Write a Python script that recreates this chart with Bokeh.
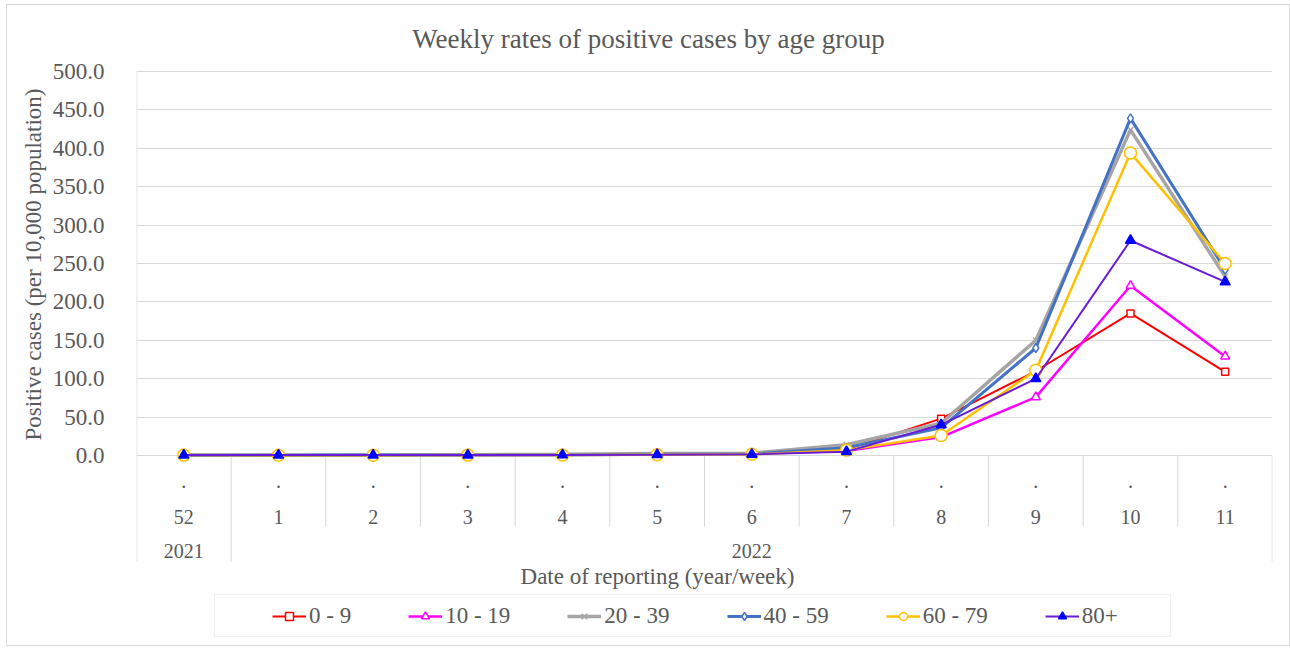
from bokeh.plotting import figure
from bokeh.models import (FactorRange, Range1d, FixedTicker, NumeralTickFormatter,
                          Legend, LegendItem, Label, ColumnDataSource, BoxAnnotation, Title)
from bokeh.transform import dodge
from bokeh.core.properties import value
from bokeh.embed import file_html
from bokeh.resources import INLINE

# ---------------- data ----------------
weeks = ["52", "1", "2", "3", "4", "5", "6", "7", "8", "9", "10", "11"]
years = ["2021"] + ["2022"] * 11
series_names = ["0 - 9", "10 - 19", "20 - 39", "40 - 59", "60 - 79", "80+"]

age_0_9 = [0.3, 0.3, 0.4, 0.5, 0.8, 1.5, 2.0, 8, 48, 110, 185, 109]
age_10_19 = [0.3, 0.3, 0.4, 0.6, 1.0, 2.5, 2.5, 6, 24, 76, 221, 129]
age_20_39 = [0.8, 0.7, 0.8, 1.0, 1.5, 2.5, 3.0, 14, 42, 150, 424, 233]
age_40_59 = [0.4, 0.4, 0.5, 0.6, 0.8, 1.5, 2.0, 10, 36, 140, 439, 242]
age_60_79 = [0.5, 0.4, 0.4, 0.5, 0.6, 1.0, 1.5, 7, 26, 111, 394, 250]
age_80_plus = [0.5, 0.5, 0.5, 0.6, 0.7, 1.0, 1.5, 5, 40, 100, 280, 226]
series_values = [age_0_9, age_10_19, age_20_39, age_40_59, age_60_79, age_80_plus]

y_ticks = [0, 50, 100, 150, 200, 250, 300, 350, 400, 450, 500]
title_text = "Weekly rates of positive cases by age group"
x_title = "Date of reporting (year/week)"
y_title = "Positive cases (per 10,000 population)"

# ---------------- layout (page pixels) ----------------
ORIGIN_X, ORIGIN_Y = 7, 5          # where the canvas starts on the page
W, H = 1284, 642
FRAME_LEFT, FRAME_RIGHT = 136, 1272
FRAME_TOP, FRAME_BOTTOM = 10, 642   # frame covers the title / table / legend area
ZERO_Y, TOP_Y = 455, 71             # pixel rows of 0 and 500
Y_MAX = 500
PX_PER_UNIT = (ZERO_Y - TOP_Y) / Y_MAX
PX_PER_CAT = (FRAME_RIGHT - FRAME_LEFT) / len(weeks)


def x_at(px):
    return (px - FRAME_LEFT) / PX_PER_CAT


def y_at(py):
    return (ZERO_Y - py) / PX_PER_UNIT


TXT = "#595959"
GRID = "#d9d9d9"
FONT = "Liberation Serif"

p = figure(width=W, height=H, x_range=FactorRange(*weeks),
           y_range=Range1d(y_at(FRAME_BOTTOM), y_at(FRAME_TOP)),
           x_axis_location=None, title=None, output_backend="svg", toolbar_location=None,
           min_border_left=FRAME_LEFT - ORIGIN_X, min_border_top=FRAME_TOP - ORIGIN_Y,
           min_border_right=ORIGIN_X + W - FRAME_RIGHT,
           min_border_bottom=ORIGIN_Y + H - FRAME_BOTTOM)
p.outline_line_color = None
p.background_fill_color = "white"
p.border_fill_color = "white"
p.styles = {"border": "1px solid #d9d9d9", "margin-left": "6px", "margin-top": "4px"}

p.xgrid.visible = False
p.ygrid.ticker = FixedTicker(ticks=y_ticks)
p.ygrid.grid_line_color = GRID
p.ygrid.grid_line_width = 1

ax = p.yaxis[0]
ax.ticker = FixedTicker(ticks=y_ticks)
ax.formatter = NumeralTickFormatter(format="0.0")
ax.axis_line_color = None
ax.major_tick_line_color = None
ax.minor_tick_line_color = None
ax.major_label_standoff = 26
ax.major_label_text_font = FONT
ax.major_label_text_font_size = "23px"
ax.major_label_text_color = TXT

# y-axis title as a side title on the left, positioned from the frame bottom
p.add_layout(Title(text=y_title, align="left", offset=FRAME_BOTTOM - 440,
                   text_font=FONT, text_font_size="23px", text_color=TXT,
                   text_font_style="normal", standoff=8), "left")

# ---------------- category table below the zero line ----------------
table_bottom = y_at(561)
short_bottom = y_at(526)
# left edge (axis line) from 500 down to the table bottom
edge_src = ColumnDataSource(dict(wk=[weeks[0]], y0=[Y_MAX], yb=[table_bottom]))
p.segment(x0=dodge("wk", -0.497, range=p.x_range), y0="y0",
          x1=dodge("wk", -0.497, range=p.x_range), y1="yb",
          source=edge_src, line_color=GRID, line_width=1)

sep_wk, sep_bottom = [], []
for i in range(1, len(weeks)):
    sep_wk.append(weeks[i])
    sep_bottom.append(table_bottom if years[i] != years[i - 1] else short_bottom)
sep_src = ColumnDataSource(dict(wk=sep_wk, yb=sep_bottom, y0=[0] * len(sep_wk)))
p.segment(x0=dodge("wk", -0.5, range=p.x_range), y0="y0",
          x1=dodge("wk", -0.5, range=p.x_range), y1="yb",
          source=sep_src, line_color=GRID, line_width=1)
end_src = ColumnDataSource(dict(wk=[weeks[-1]], yb=[table_bottom], y0=[0]))
p.segment(x0=dodge("wk", 0.497, range=p.x_range), y0="y0",
          x1=dodge("wk", 0.497, range=p.x_range), y1="yb",
          source=end_src, line_color=GRID, line_width=1)

p.text(x=weeks, y=[y_at(480)] * len(weeks), text=["."] * len(weeks),
       text_font=value(FONT), text_font_size="20px", text_color=TXT,
       text_align="center", text_baseline="middle")
p.text(x=weeks, y=[y_at(516)] * len(weeks), text=weeks,
       text_font=value(FONT), text_font_size="20px", text_color=TXT,
       text_align="center", text_baseline="middle")

year_labels, year_x = [], []
for yr in dict.fromkeys(years):
    idx = [i for i, y in enumerate(years) if y == yr]
    year_labels.append(yr)
    year_x.append((idx[0] + idx[-1] + 1) / 2)
p.text(x=year_x, y=[y_at(550)] * len(year_x), text=year_labels,
       text_font=value(FONT), text_font_size="20px", text_color=TXT,
       text_align="center", text_baseline="middle")

# ---------------- series ----------------
styles = [
    dict(color="#FF0000", lw=2, marker="square", size=7, fill="white", mline="#FF0000"),
    dict(color="#FF00FF", lw=2.5, marker="triangle", size=9, fill="white", mline="#FF00FF"),
    dict(color="#A5A5A5", lw=3.5, marker="x", size=8, fill="white", mline="#A5A5A5"),
    dict(color="#4472C4", lw=3, marker="diamond", size=9, fill="white", mline="#4472C4"),
    dict(color="#FFC000", lw=2.5, marker="circle", size=12, fill="white", mline="#FFC000"),
    dict(color="#6A1BD8", lw=2, marker="triangle", size=10, fill="#0000FF", mline="#0000FF"),
]

items = []
for name, vals, st in zip(series_names, series_values, styles):
    src = ColumnDataSource(dict(week=weeks, val=vals))
    rl = p.line("week", "val", source=src, line_color=st["color"], line_width=st["lw"])
    rs = p.scatter("week", "val", source=src, marker=st["marker"], size=st["size"],
                   fill_color=st["fill"], line_color=st["mline"], line_width=1.5)
    items.append(LegendItem(label=name, renderers=[rl, rs]))

# ---------------- texts ----------------
p.add_layout(Label(x=x_at(648), y=y_at(38), text=title_text, text_font=FONT,
                   text_font_size="27px", text_color=TXT, text_align="center",
                   text_baseline="middle"))
p.add_layout(Label(x=x_at(657), y=y_at(576), text=x_title, text_font=FONT,
                   text_font_size="23px", text_color=TXT, text_align="center",
                   text_baseline="middle"))

# ---------------- legend ----------------
p.add_layout(BoxAnnotation(left=x_at(214), right=x_at(1170), top=y_at(594), bottom=y_at(636),
                           fill_alpha=0, line_color="#cfcfcf", line_width=1))
legend = Legend(items=items, orientation="horizontal",
                location=(272 - FRAME_LEFT, FRAME_BOTTOM - 629),
                glyph_width=34, glyph_height=20, label_standoff=3, spacing=57, padding=8,
                border_line_color=None, background_fill_alpha=0,
                label_text_font=FONT, label_text_font_size="23px", label_text_color=TXT)
p.add_layout(legend)

open("out.html", "w").write(file_html(p, INLINE))
